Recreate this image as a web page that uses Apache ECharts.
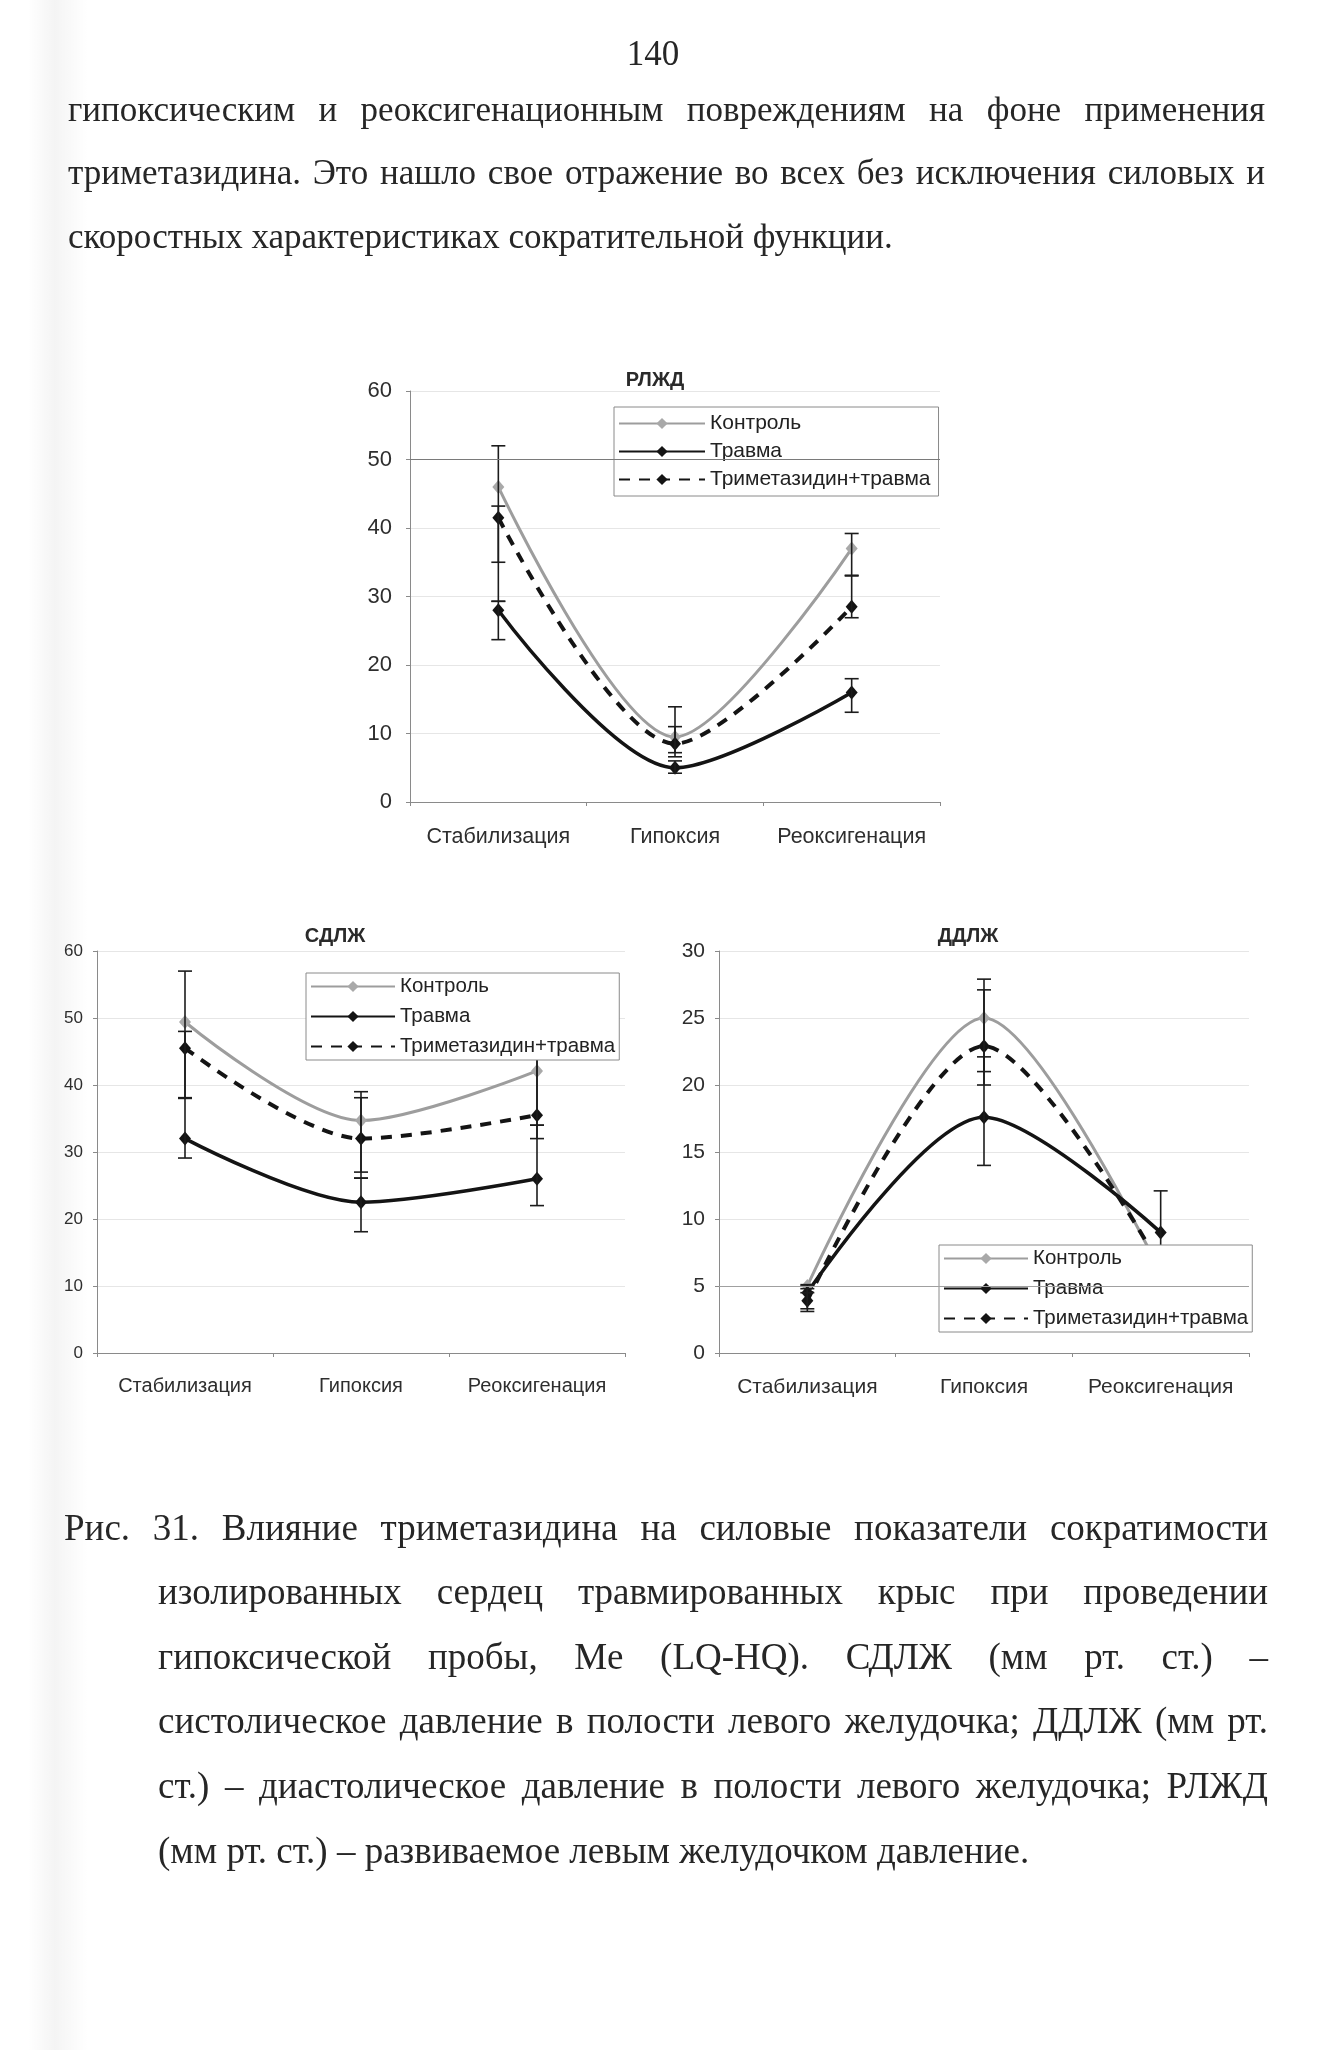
<!DOCTYPE html>
<html><head><meta charset="utf-8">
<script src="https://cdn.jsdelivr.net/npm/echarts@6/dist/echarts.min.js"></script>
<style>
html,body{margin:0;padding:0;background:#fff;}
#page{position:relative;width:1326px;height:2050px;overflow:hidden;background:#fff;}
#shade{position:absolute;left:28px;top:0;width:60px;height:2050px;background:linear-gradient(to right,rgba(0,0,0,0),rgba(0,0,0,0.045) 45%,rgba(0,0,0,0));}
#chart{position:absolute;left:0;top:0;width:1326px;height:2050px;}
.ln{position:absolute;font-family:'Liberation Serif','Times New Roman',serif;font-size:35px;line-height:40px;color:#262626;white-space:nowrap;}
.cap{font-size:37px;}
.jf{display:flex;justify-content:space-between;}
</style></head>
<body><div id="page"><div id="shade"></div><div id="chart"></div><div id="txt"></div></div>
<script>
// ---- data ----
const categories = ['Стабилизация', 'Гипоксия', 'Реоксигенация'];
const seriesNames = ['Контроль', 'Травма', 'Триметазидин+травма'];

// РЛЖД
const rljdControl = [46, 9.5, 37];
const rljdTrauma = [28, 5, 16];
const rljdTmz = [41.5, 8.5, 28.5];
const rljdControlLow = [35, 7.2, 33];
const rljdControlHigh = [52, 13.9, 39.2];
const rljdTraumaLow = [23.7, 4.2, 13.1];
const rljdTraumaHigh = [29.3, 6, 18];
const rljdTmzLow = [29.3, 6.6, 26.9];
const rljdTmzHigh = [43.2, 11, 33.1];

// СДЛЖ
const sdlzControl = [49.4, 34.7, 42.1];
const sdlzTrauma = [32, 22.5, 26];
const sdlzTmz = [45.5, 32, 35.5];
const sdlzControlLow = [38.1, 27, 34];
const sdlzControlHigh = [57, 39, 47];
const sdlzTraumaLow = [29.1, 18.1, 22];
const sdlzTraumaHigh = [38.1, 26.1, 34];
const sdlzTmzLow = [38, 26.1, 32];
const sdlzTmzHigh = [48, 38.1, 44];

// ДДЛЖ
const ddlzControl = [5.0, 25, 6];
const ddlzTrauma = [4.5, 17.6, 9];
const ddlzTmz = [3.9, 22.9, 6.5];
const ddlzControlLow = [4.5, 20, 5];
const ddlzControlHigh = [5.1, 27.9, 7];
const ddlzTraumaLow = [3.3, 14, 7];
const ddlzTraumaHigh = [5, 22.1, 12.1];
const ddlzTmzLow = [3.1, 21, 5.5];
const ddlzTmzHigh = [4.8, 27.1, 7.5];

const chartTitles = ['РЛЖД', 'СДЛЖ', 'ДДЛЖ'];
const yMax = [60, 60, 30];
const yStep = [10, 10, 5];

// ---- text ----
const topLines = [
  {t:'гипоксическим и реоксигенационным повреждениям на фоне применения', x:68, w:1197, y:114, j:true},
  {t:'триметазидина. Это нашло свое отражение во всех без исключения силовых и', x:68, w:1197, y:177, j:true},
  {t:'скоростных характеристиках сократительной функции.', x:68, w:1197, y:241, j:false}
];
const captionLines = [
  {t:'Рис. 31. Влияние триметазидина на силовые показатели сократимости', x:64, w:1204, y:1532, j:true},
  {t:'изолированных сердец травмированных крыс при проведении', x:158, w:1110, y:1596, j:true},
  {t:'гипоксической пробы, Me (LQ-HQ). СДЛЖ (мм рт. ст.) –', x:158, w:1110, y:1661, j:true},
  {t:'систолическое давление в полости левого желудочка; ДДЛЖ (мм рт.', x:158, w:1110, y:1725, j:true},
  {t:'ст.) – диастолическое давление в полости левого желудочка; РЛЖД', x:158, w:1110, y:1790, j:true},
  {t:'(мм рт. ст.) – развиваемое левым желудочком давление.', x:158, w:1110, y:1855, j:false}
];
const pageNumber = '140';

(function(){
  const box = document.getElementById('txt');
  const pn = document.createElement('div');
  pn.className = 'ln'; pn.textContent = pageNumber;
  pn.style.left = '553px'; pn.style.width = '200px'; pn.style.textAlign = 'center'; pn.style.top = (58-24)+'px';
  box.appendChild(pn);
  const add = (L, cls) => {
    const d = document.createElement('div');
    d.className = 'ln ' + cls + (L.j ? ' jf' : '');
    d.style.left = L.x + 'px'; d.style.top = (L.y - 24) + 'px'; d.style.width = L.w + 'px';
    if (L.j) {
      L.t.split(' ').forEach(w => { const s = document.createElement('span'); s.textContent = w; d.appendChild(s); });
    } else d.textContent = L.t;
    box.appendChild(d);
  };
  topLines.forEach(L => add(L, ''));
  captionLines.forEach(L => add(L, 'cap'));
})();

// ---- chart ----
const FONT = "'Liberation Sans', Arial, sans-serif";
const grids = [
  {left:410, top:391, width:530, height:411},
  {left:97, top:951, width:528, height:402},
  {left:719, top:951, width:530, height:402}
];
const titlePos = [[650, 365], [330, 921], [963, 921]];
const legendPos = [
  {left:614, top:407, iw:86, gap:7, pad:[6,8,6,4], fs:21},
  {left:306, top:973, iw:84, gap:9, pad:[3,4,3,4], fs:20.5},
  {left:939, top:1245, iw:84, gap:9, pad:[3,4,3,4], fs:20.5}
];
const tickFont = [22, 17, 21];
const catFont = [21.5, 20, 21];
const labelMargin = [18, 14, 14];
const catMargin = [24, 23, 24];

const styles = [
  {line:'#9d9d9d', sym:'#a9a9a9', width:3, type:'solid'},
  {line:'#141414', sym:'#141414', width:3.5, type:'solid'},
  {line:'#141414', sym:'#141414', width:4, type:[11, 9]}
];

const values = [
  [rljdControl, rljdTrauma, rljdTmz],
  [sdlzControl, sdlzTrauma, sdlzTmz],
  [ddlzControl, ddlzTrauma, ddlzTmz]
];
const errs = [
  [[rljdControlLow, rljdControlHigh], [rljdTraumaLow, rljdTraumaHigh], [rljdTmzLow, rljdTmzHigh]],
  [[sdlzControlLow, sdlzControlHigh], [sdlzTraumaLow, sdlzTraumaHigh], [sdlzTmzLow, sdlzTmzHigh]],
  [[ddlzControlLow, ddlzControlHigh], [ddlzTraumaLow, ddlzTraumaHigh], [ddlzTmzLow, ddlzTmzHigh]]
];

function errRender(params, api) {
  const x = api.value(0);
  const p1 = api.coord([x, api.value(1)]);
  const p2 = api.coord([x, api.value(2)]);
  const w = 7;
  const st = {stroke:'#1c1c1c', lineWidth:1.6};
  return {type:'group', children:[
    {type:'line', shape:{x1:p1[0], y1:p1[1], x2:p2[0], y2:p2[1]}, style:st},
    {type:'line', shape:{x1:p1[0]-w, y1:p1[1], x2:p1[0]+w, y2:p1[1]}, style:st},
    {type:'line', shape:{x1:p2[0]-w, y1:p2[1], x2:p2[0]+w, y2:p2[1]}, style:st}
  ]};
}

const option = {
  animation:false,
  backgroundColor:'transparent',
  textStyle:{fontFamily:FONT},
  title: chartTitles.map((t,i) => ({text:t, left:titlePos[i][0], top:titlePos[i][1], textAlign:'center',
    textStyle:{fontSize:20, fontWeight:'bold', color:'#2a2a2a', fontFamily:FONT}})),
  grid: grids,
  legend: legendPos.map(p => ({orient:'vertical', left:p.left, top:p.top, data:seriesNames, selectedMode:false,
    itemWidth:p.iw, itemHeight:14, itemGap:p.gap, padding:p.pad, backgroundColor:'#fff',
    borderColor:'#8a8a8a', borderWidth:1, borderRadius:0,
    textStyle:{fontSize:p.fs, lineHeight:20, color:'#222', fontFamily:FONT}})),
  xAxis: grids.map((g,i) => ({type:'category', gridIndex:i, data:categories, boundaryGap:true,
    axisLine:{lineStyle:{color:'#8a8a8a', width:1}},
    axisTick:{show:true, length:4, lineStyle:{color:'#8a8a8a'}},
    axisLabel:{color:'#2e2e2e', fontSize:catFont[i], fontFamily:FONT, margin:catMargin[i], interval:0},
    splitLine:{show:false}})),
  yAxis: grids.map((g,i) => ({type:'value', gridIndex:i, min:0, max:yMax[i], interval:yStep[i],
    axisLine:{show:true, lineStyle:{color:'#8a8a8a', width:1}},
    axisTick:{show:true, length:4, lineStyle:{color:'#8a8a8a'}},
    axisLabel:{color:'#2e2e2e', fontSize:tickFont[i], fontFamily:FONT, margin:labelMargin[i]},
    splitLine:{show:true, lineStyle:{color:'#e6e6e6', width:1}}})),
  series: []
};

values.forEach((group, gi) => {
  group.forEach((data, si) => {
    const s = styles[si];
    const ser = {type:'line', name:seriesNames[si], xAxisIndex:gi, yAxisIndex:gi, data:data,
      smooth:0.3, symbol:'diamond', symbolSize:[12,14], showSymbol:true,
      lineStyle:{color:s.line, width:s.width, type:s.type},
      itemStyle:{color:s.sym}, emphasis:{disabled:true}, z:2};
    if (si === 0 && gi === 0) {
      ser.markLine = {silent:true, symbol:'none', label:{show:false}, lineStyle:{color:'#7a7a7a', type:'solid', width:1}, data:[{yAxis:50}]};
    }
    if (si === 0 && gi === 2) {
      ser.markLine = {silent:true, symbol:'none', label:{show:false}, lineStyle:{color:'#a0a0a0', type:'solid', width:1}, data:[{yAxis:5}]};
    }
    option.series.push(ser);
  });
  errs[gi].forEach(([lo, hi]) => {
    option.series.push({type:'custom', xAxisIndex:gi, yAxisIndex:gi, silent:true, z:3,
      data: lo.map((l, k) => [k, l, hi[k]]), encode:{x:0, y:[1,2]}, renderItem:errRender});
  });
});

const chart = echarts.init(document.getElementById('chart'));
chart.setOption(option);
</script>
</body></html>
